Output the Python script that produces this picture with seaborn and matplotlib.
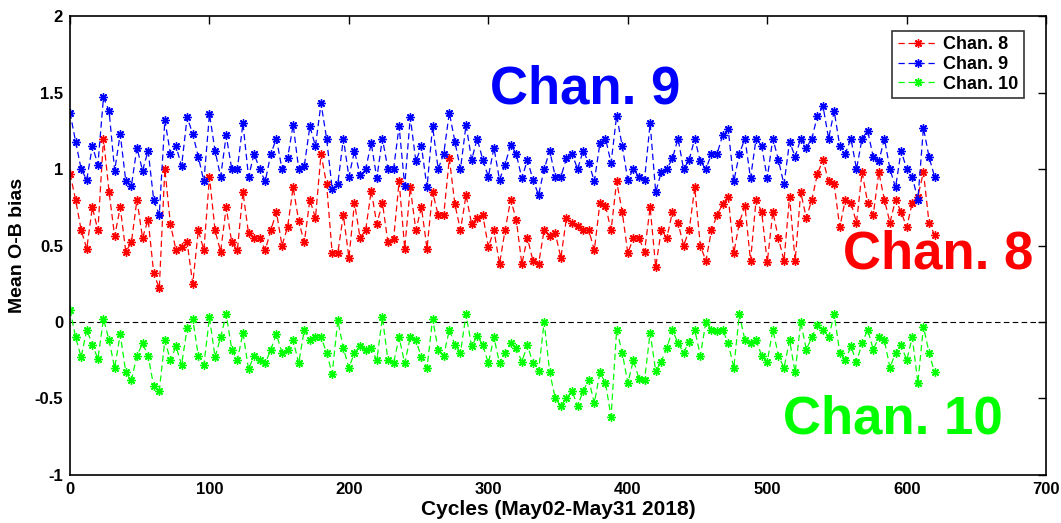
import numpy as np
import pandas as pd
import matplotlib
matplotlib.use("Agg")
import matplotlib.pyplot as plt
from matplotlib.ticker import FuncFormatter
import seaborn as sns

# ---- data (one sample every 4 cycles) ----
cycles = list(range(0, 621, 4))

chan9 = [1.37, 1.18, 1.0, 0.93, 1.15, 1.03, 1.47, 1.38, 0.99, 1.23, 0.92, 0.89, 1.14, 0.99, 1.12, 0.8, 0.7, 1.32, 1.1, 1.15, 1.02, 1.34, 1.23, 1.08, 0.92, 1.36,
         1.12, 0.95, 1.22, 1.0, 1.0, 1.3, 0.95, 1.1, 1.0, 0.92, 1.1, 1.2, 1.0, 1.07, 1.29, 1.0, 1.02, 1.28, 1.15, 1.43, 1.2, 0.87, 0.9, 1.2, 0.95,
         1.12, 0.96, 1.0, 1.17, 0.94, 1.2, 1.0, 1.0, 1.28, 0.89, 1.34, 1.05, 1.15, 0.88, 1.28, 1.0, 1.1, 1.37, 1.18, 1.0, 1.29, 1.06, 1.2, 1.06, 0.95,
         1.14, 0.93, 1.03, 1.16, 1.1, 0.94, 1.06, 0.93, 0.83, 1.0, 1.12, 0.95, 0.95, 1.07, 1.1, 1.0, 1.12, 1.04, 0.92, 1.17, 1.2, 1.04, 1.35, 1.15, 0.93,
         1.0, 0.95, 0.93, 1.3, 0.85, 0.98, 1.0, 1.07, 1.2, 1.0, 1.06, 1.2, 1.05, 1.0, 1.1, 1.1, 1.22, 1.26, 0.92, 1.1, 1.2, 0.94, 1.2, 1.15, 0.94,
         1.2, 1.06, 0.9, 1.18, 1.08, 1.2, 1.14, 1.2, 1.35, 1.41, 1.2, 1.38, 1.15, 1.1, 1.2, 1.0, 1.2, 1.25, 1.08, 1.05, 1.2, 1.0, 0.88, 1.12, 1.0,
         0.95, 0.8, 1.27, 1.08, 0.95]

chan8 = [0.97, 0.8, 0.6, 0.48, 0.75, 0.6, 1.2, 0.85, 0.56, 0.75, 0.46, 0.52, 0.8, 0.55, 0.67, 0.32, 0.22, 1.0, 0.64, 0.47, 0.49, 0.52, 0.25, 0.6, 0.47, 0.95,
         0.6, 0.46, 0.75, 0.52, 0.47, 0.85, 0.58, 0.55, 0.55, 0.47, 0.6, 0.72, 0.5, 0.62, 0.88, 0.66, 0.52, 0.8, 0.68, 1.1, 0.9, 0.45, 0.45, 0.7, 0.42,
         0.78, 0.55, 0.6, 0.86, 0.64, 0.78, 0.52, 0.54, 0.92, 0.48, 0.88, 0.6, 0.75, 0.48, 0.85, 0.7, 0.7, 1.07, 0.77, 0.6, 0.83, 0.64, 0.68, 0.7, 0.49,
         0.6, 0.38, 0.6, 0.8, 0.67, 0.38, 0.55, 0.4, 0.38, 0.6, 0.56, 0.58, 0.42, 0.68, 0.65, 0.63, 0.6, 0.6, 0.47, 0.78, 0.76, 0.6, 0.92, 0.72, 0.45,
         0.55, 0.55, 0.46, 0.75, 0.36, 0.6, 0.55, 0.72, 0.65, 0.5, 0.6, 0.88, 0.5, 0.4, 0.6, 0.7, 0.77, 0.82, 0.45, 0.65, 0.76, 0.4, 0.8, 0.72, 0.39,
         0.72, 0.55, 0.4, 0.82, 0.4, 0.85, 0.68, 0.8, 0.97, 1.06, 0.92, 0.9, 0.62, 0.8, 0.78, 0.65, 0.98, 0.78, 0.7, 0.98, 0.8, 0.65, 0.8, 0.72, 0.62,
         0.78, 0.82, 0.98, 0.65, 0.57]

chan10 = [0.08, -0.1, -0.23, -0.05, -0.15, -0.24, 0.02, -0.12, -0.3, -0.08, -0.33, -0.38, -0.22, -0.14, -0.22, -0.42, -0.45, -0.12, -0.25, -0.16, -0.28, -0.04, 0.02, -0.22, -0.28, 0.03,
          -0.23, -0.1, 0.05, -0.18, -0.25, -0.07, -0.31, -0.22, -0.25, -0.27, -0.18, -0.08, -0.2, -0.18, -0.12, -0.27, -0.05, -0.12, -0.1, -0.1, -0.2, -0.34, 0.01, -0.17, -0.3,
          -0.2, -0.16, -0.18, -0.17, -0.25, 0.03, -0.25, -0.27, -0.1, -0.27, -0.1, -0.12, -0.23, -0.3, 0.02, -0.18, -0.22, -0.05, -0.15, -0.2, 0.05, -0.16, -0.09, -0.15, -0.27,
          -0.1, -0.27, -0.2, -0.14, -0.17, -0.26, -0.15, -0.27, -0.32, 0.0, -0.33, -0.5, -0.55, -0.5, -0.45, -0.55, -0.45, -0.38, -0.53, -0.33, -0.4, -0.62, -0.05, -0.2, -0.4,
          -0.25, -0.37, -0.38, -0.07, -0.32, -0.26, -0.17, -0.05, -0.14, -0.2, -0.13, -0.05, -0.22, 0.0, -0.05, -0.06, -0.05, -0.14, -0.3, 0.05, -0.12, -0.14, -0.12, -0.22, -0.26,
          -0.05, -0.22, -0.3, -0.12, -0.33, 0.0, -0.18, -0.1, -0.02, -0.05, -0.1, 0.05, -0.2, -0.25, -0.16, -0.26, -0.14, -0.05, -0.18, -0.1, -0.12, -0.3, -0.2, -0.15, -0.25,
          -0.1, -0.4, -0.03, -0.2, -0.33]

series_names = ["Chan. 8", "Chan. 9", "Chan. 10"]
series_colors = ["#ff0000", "#0000ff", "#00ff00"]
xticks = [0, 100, 200, 300, 400, 500, 600, 700]
yticks = [-1, -0.5, 0, 0.5, 1, 1.5, 2]

# ---- style ----
sns.set_theme(style="white")
plt.rcParams["font.family"] = ["Liberation Sans", "DejaVu Sans"]
plt.rcParams["font.weight"] = "bold"
plt.rcParams["axes.labelweight"] = "bold"
plt.rcParams["text.color"] = "black"
plt.rcParams["axes.labelcolor"] = "black"
plt.rcParams["xtick.color"] = "black"
plt.rcParams["ytick.color"] = "black"

fig = plt.figure(figsize=(10.61, 5.23), dpi=100)
ax = fig.add_axes([0.066, 0.092, 0.92, 0.877])

for name, vals, col in zip(series_names, [chan8, chan9, chan10], series_colors):
    d = pd.DataFrame({"cycle": cycles, "bias": vals})
    sns.lineplot(data=d, x="cycle", y="bias", ax=ax, color=col, label=name,
                 linestyle=(0, (5, 3)), linewidth=0.9, marker=(8, 2, 0),
                 markersize=6, markeredgewidth=1.0, markeredgecolor=col,
                 estimator=None, sort=False)

ax.axhline(0, color="black", linestyle=(0, (5, 3)), linewidth=0.8, zorder=0.5)

ax.set_xlim(0, 700)
ax.set_ylim(-1, 2)
ax.set_xticks(xticks)
ax.set_yticks(yticks)
ax.yaxis.set_major_formatter(FuncFormatter(lambda v, p: f"{v:g}"))
ax.tick_params(direction="in", top=True, right=True, length=6, width=1,
               labelsize=12, colors="black", pad=5)
for lab in ax.get_xticklabels() + ax.get_yticklabels():
    lab.set_fontweight("bold")
for sp in ax.spines.values():
    sp.set_color("black")
    sp.set_linewidth(1.2)

ax.set_xlabel("Cycles (May02-May31 2018)", fontsize=15, fontweight="bold",
              labelpad=2, color="black")
ax.set_ylabel("Mean O-B bias", fontsize=14, fontweight="bold", labelpad=6,
              color="black")

ax.text(301, 1.52, "Chan. 9", color="#0000ff", fontsize=38, fontweight="bold", va="center", ha="left")
ax.text(554, 0.44, "Chan. 8", color="#ff0000", fontsize=38, fontweight="bold", va="center", ha="left")
ax.text(511, -0.64, "Chan. 10", color="#00ff00", fontsize=38, fontweight="bold", va="center", ha="left")

leg = ax.legend(loc="upper right", bbox_to_anchor=(0.977, 0.968), fontsize=13,
                frameon=True, fancybox=False, shadow=False, handlelength=2.2,
                handletextpad=0.3, borderpad=0.3, labelspacing=0.15, borderaxespad=0)
leg.get_frame().set_edgecolor("black")
leg.get_frame().set_linewidth(1.2)
for t in leg.get_texts():
    t.set_fontweight("bold")
    t.set_color("black")

fig.savefig("out.png", dpi=100, facecolor="white")
